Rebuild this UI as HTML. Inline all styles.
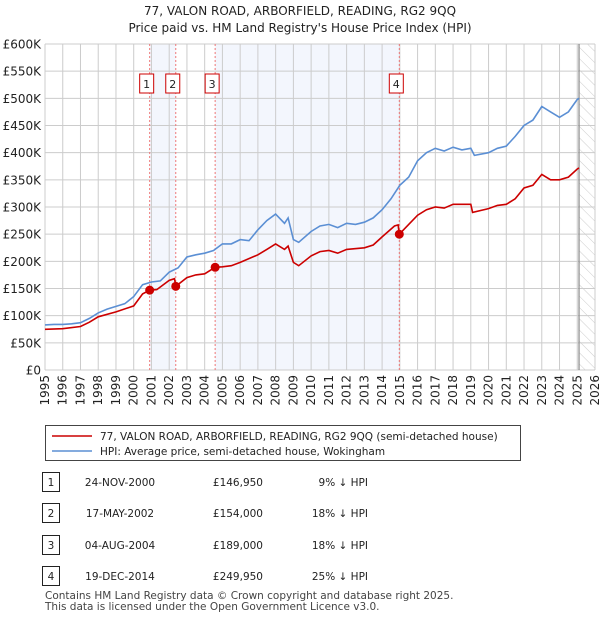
<!DOCTYPE html>
<html><head><meta charset="utf-8"><style>
body{margin:0;background:#fff;font-family:"Liberation Sans","DejaVu Sans",sans-serif;}
#wrap{position:relative;width:600px;height:620px;overflow:hidden}
svg text{font-family:"DejaVu Sans","Liberation Sans",sans-serif}
</style></head><body>
<div id="wrap">
<svg id="chart" width="600" height="620"></svg>
</div>
<script>
const yTicks=[0,50,100,150,200,250,300,350,400,450,500,550,600];
const yTickLabels=["£0","£50K","£100K","£150K","£200K","£250K","£300K","£350K","£400K","£450K","£500K","£550K","£600K"];
const xYears=[1995,1996,1997,1998,1999,2000,2001,2002,2003,2004,2005,2006,2007,2008,2009,2010,2011,2012,2013,2014,2015,2016,2017,2018,2019,2020,2021,2022,2023,2024,2025,2026];
const hpiT=[1995,1995.5,1996,1996.5,1997,1997.5,1998,1998.5,1999,1999.5,2000,2000.5,2001,2001.5,2002,2002.5,2003,2003.5,2004,2004.5,2005,2005.5,2006,2006.5,2007,2007.5,2008,2008.5,2008.7,2009,2009.3,2010,2010.5,2011,2011.5,2012,2012.5,2013,2013.5,2014,2014.5,2015,2015.5,2016,2016.5,2017,2017.5,2018,2018.5,2019,2019.2,2020,2020.5,2021,2021.5,2022,2022.5,2023,2023.5,2024,2024.5,2025,2025.1];
const hpiV=[83,84,84,85,87,95,105,112,117,122,135,157,162,164,180,188,208,212,215,220,232,232,240,238,258,275,287,270,280,240,235,255,265,268,262,270,268,272,280,295,315,340,355,385,400,408,403,410,405,408,395,400,408,412,430,450,460,485,475,465,475,498,500];
const hpdT=[1995,1996,1997,1997.5,1998,1999,2000,2000.5,2000.9,2001.3,2002,2002.3,2002.37,2003,2003.5,2004,2004.59,2005,2005.5,2006,2007,2007.5,2008,2008.5,2008.7,2009,2009.3,2010,2010.5,2011,2011.5,2012,2013,2013.5,2014,2014.7,2014.9,2014.97,2015.5,2016,2016.5,2017,2017.5,2018,2019,2019.1,2020,2020.5,2021,2021.5,2022,2022.5,2023,2023.5,2024,2024.5,2025,2025.1];
const hpdV=[75,76,80,88,98,107,118,140,146.95,148,165,168,154,170,175,177,189,190,192,198,212,222,232,222,228,198,192,210,218,220,215,222,225,230,245,265,267,249.95,268,285,295,300,298,305,305,290,297,303,305,315,335,340,360,350,350,355,370,372];
const saleT=[2000.9,2002.37,2004.59,2014.97];
const saleV=[146.95,154,189,249.95];
const saleLabels=["1","2","3","4"];
const saleDates=["24-NOV-2000","17-MAY-2002","04-AUG-2004","19-DEC-2014"];
const salePrices=["£146,950","£154,000","£189,000","£249,950"];
const saleHpi=["9% ↓ HPI","18% ↓ HPI","18% ↓ HPI","25% ↓ HPI"];

const NS="http://www.w3.org/2000/svg",svg=document.getElementById('chart');
const L=45,R=595,T=44,B=370;
const x=t=>L+(t-1995)/(2026-1995)*(R-L);
const y=v=>B-v/600*(B-T);
function el(tag,attrs,parent){const e=document.createElementNS(NS,tag);for(const k in attrs)e.setAttribute(k,attrs[k]);(parent||svg).appendChild(e);return e;}
function txt(s,attrs,parent){const e=el('text',attrs,parent);e.textContent=s;return e;}
const defs=el('defs',{});
const pat=el('pattern',{id:'hatch',width:8,height:8,patternUnits:'userSpaceOnUse',patternTransform:'rotate(-45)'},defs);
el('line',{x1:0,y1:0,x2:0,y2:8,stroke:'#ccc','stroke-width':1},pat);
let t1=txt("77, VALON ROAD, ARBORFIELD, READING, RG2 9QQ",{x:300,y:15,'text-anchor':'middle','font-size':12,fill:'#222'});

let t2=txt("Price paid vs. HM Land Registry's House Price Index (HPI)",{x:300,y:32,'text-anchor':'middle','font-size':12,fill:'#222'});

[[0,1],[2,3]].forEach((p,i)=>{const r=el('rect',{x:x(saleT[p[0]]),y:T,width:x(saleT[p[1]])-x(saleT[p[0]]),height:B-T,fill:'#f3f6fd'});
});
const hr=el('rect',{x:x(2025.1),y:T,width:R-x(2025.1),height:B-T,fill:'url(#hatch)'});

yTicks.forEach((v,i)=>{const g=el('line',{x1:L,x2:R,y1:y(v),y2:y(v),stroke:'#ccc','stroke-width':1});

const tl=txt(yTickLabels[i],{x:L-4,y:y(v)+4.5,'text-anchor':'end','font-size':12,fill:'#222'});
});
xYears.forEach(yr=>{const g=el('line',{x1:x(yr),x2:x(yr),y1:T,y2:B,stroke:'#ccc','stroke-width':1});

const tl=txt(String(yr),{x:0,y:0,'text-anchor':'end','font-size':12,fill:'#222',transform:`translate(${x(yr)+4},${B+5}) rotate(-90)`});
});
const vl=el('line',{x1:x(2025.1),x2:x(2025.1),y1:T,y2:B,stroke:'#888','stroke-width':1.2});

saleT.forEach((t,i)=>{const l=el('line',{x1:x(t),x2:x(t),y1:T,y2:B,stroke:'#ee7777','stroke-width':1,'stroke-dasharray':'2,2'});

const bx=el('rect',{x:x(t)-10,y:74,width:14,height:19,fill:'#fff',stroke:'#c00','stroke-width':1});

const tl=txt(saleLabels[i],{x:x(t)-3,y:88,'text-anchor':'middle','font-size':11,fill:'#222'});
});
function path(ts,vs,color,name){const d=ts.map((t,i)=>(i?'L':'M')+x(t).toFixed(1)+','+y(vs[i]).toFixed(1)).join('');
const p=el('path',{d:d,fill:'none',stroke:color,'stroke-width':1.6});}
path(hpiT,hpiV,'#5b8fd4','hpi-line');
path(hpdT,hpdV,'#cc0000','price-paid-line');
saleT.forEach((t,i)=>{const c=el('circle',{cx:x(t),cy:y(saleV[i]),r:4.5,fill:'#cc0000'});
});
const lg=el('g',{});
el('rect',{x:45.5,y:425.5,width:475,height:35,fill:'#fff',stroke:'#444','stroke-width':1},lg);
el('line',{x1:52,x2:92,y1:436,y2:436,stroke:'#cc0000','stroke-width':1.6},lg);
txt("77, VALON ROAD, ARBORFIELD, READING, RG2 9QQ (semi-detached house)",{x:100,y:440,'font-size':10.5,fill:'#222'},lg);
el('line',{x1:52,x2:92,y1:451,y2:451,stroke:'#5b8fd4','stroke-width':1.6},lg);
txt("HPI: Average price, semi-detached house, Wokingham",{x:100,y:455,'font-size':10.5,fill:'#222'},lg);
const rowsY=[482,513,545,576];
rowsY.forEach((ry,i)=>{const g=el('g',{});
el('rect',{x:42.5,y:ry-9.5,width:17,height:19,fill:'#fff',stroke:'#222','stroke-width':1},g);
txt(saleLabels[i],{x:51,y:ry+4,'text-anchor':'middle','font-size':10.5,fill:'#222'},g);
txt(saleDates[i],{x:120,y:ry+4,'text-anchor':'middle','font-size':10.5,fill:'#222'},g);
txt(salePrices[i],{x:263,y:ry+4,'text-anchor':'end','font-size':10.5,fill:'#222'},g);
txt(saleHpi[i],{x:368,y:ry+4,'text-anchor':'end','font-size':10.5,fill:'#222'},g);});
const f1=txt("Contains HM Land Registry data © Crown copyright and database right 2025.",{x:45,y:599,'font-size':10.5,fill:'#444'});

const f2=txt("This data is licensed under the Open Government Licence v3.0.",{x:45,y:610,'font-size':10.5,fill:'#444'});

</script>
</body></html>
